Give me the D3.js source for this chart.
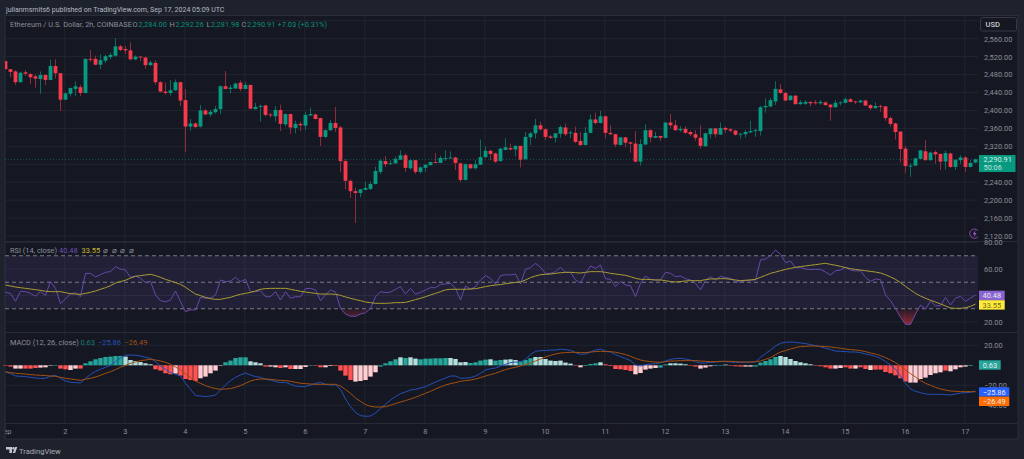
<!DOCTYPE html>
<html>
<head>
<meta charset="utf-8">
<script src="https://cdn.jsdelivr.net/npm/d3@7/dist/d3.min.js"></script>
<style>
html,body{margin:0;padding:0;background:#1e222d;overflow:hidden}
svg{display:block}
text{font-family:Roboto,"Noto Sans",sans-serif}
</style>
</head>
<body>
<svg id="chart" width="1024" height="459"></svg>
<script>
const opens=[2510,2492,2487,2463,2485,2481,2476,2470,2479,2468,
2499,2483,2424,2437,2448,2452,2439,2515,2515,2502,
2511,2519,2522,2543,2537,2534,2514,2520,2518,2501,
2506,2463,2442,2439,2445,2463,2423,2364,2371,2364,
2400,2391,2396,2403,2454,2448,2449,2462,2448,2457,
2403,2408,2411,2391,2387,2401,2369,2392,2361,2370,
2366,2389,2391,2383,2341,2356,2372,2362,2287,2243,
2220,2216,2223,2225,2236,2263,2287,2280,2282,2290,
2300,2271,2289,2263,2272,2278,2285,2283,2293,2294,
2295,2282,2245,2280,2271,2279,2296,2310,2304,2287,
2312,2316,2313,2321,2291,2340,2349,2367,2358,2342,
2339,2348,2362,2350,2350,2332,2323,2350,2380,2372,
2387,2350,2347,2323,2340,2329,2326,2286,2324,2356,
2339,2343,2339,2373,2367,2356,2359,2352,2347,2339,
2320,2347,2360,2346,2361,2358,2355,2346,2347,2351,
2354,2354,2407,2409,2420,2447,2439,2423,2433,2414,
2415,2419,2418,2416,2418,2413,2407,2417,2417,2425,
2420,2418,2422,2412,2405,2410,2409,2383,2371,2353,
2315,2276,2277,2292,2309,2289,2307,2303,2286,2304,
2274,2289,2295,2274,2284];
const highs=[2510,2492,2490,2486,2490,2484,2480,2487,2481,2513,
2514,2484,2440,2451,2465,2457,2516,2535,2522,2525,
2524,2529,2561,2546,2544,2552,2523,2522,2520,2511,
2512,2465,2462,2468,2469,2464,2448,2381,2373,2412,
2403,2401,2410,2456,2488,2457,2462,2467,2463,2457,
2417,2413,2413,2395,2410,2413,2393,2393,2377,2375,
2397,2406,2393,2384,2358,2379,2408,2366,2291,2246,
2228,2225,2241,2241,2274,2292,2298,2289,2297,2311,
2304,2291,2290,2275,2280,2286,2305,2299,2311,2309,
2297,2284,2282,2281,2289,2335,2320,2312,2306,2316,
2338,2326,2322,2321,2352,2352,2381,2375,2360,2345,
2350,2367,2371,2355,2364,2352,2363,2391,2395,2399,
2389,2367,2348,2341,2341,2330,2354,2336,2369,2358,
2352,2344,2374,2392,2379,2365,2365,2355,2356,2367,
2350,2361,2361,2373,2364,2361,2357,2350,2357,2377,
2359,2410,2427,2428,2465,2459,2442,2434,2434,2423,
2423,2420,2423,2423,2420,2414,2423,2420,2429,2428,
2422,2424,2424,2414,2418,2413,2410,2387,2373,2353,
2321,2282,2295,2312,2334,2308,2311,2304,2310,2306,
2291,2300,2298,2289,2292.26];
const lows=[2492,2474,2457,2462,2477,2459,2451,2437,2457,2468,
2471,2399,2423,2431,2432,2432,2438,2508,2501,2492,
2506,2514,2520,2532,2526,2512,2512,2510,2493,2499,
2458,2440,2435,2433,2444,2410,2307,2355,2361,2362,
2390,2386,2393,2392,2447,2438,2448,2443,2447,2403,
2402,2375,2387,2384,2375,2354,2364,2347,2349,2354,
2356,2387,2380,2321,2338,2355,2352,2262,2224,2205,
2149,2206,2222,2222,2235,2258,2274,2279,2281,2289,
2263,2268,2258,2259,2263,2277,2283,2283,2287,2293,
2267,2240,2244,2269,2268,2278,2294,2289,2283,2286,
2311,2311,2298,2273,2291,2323,2337,2355,2334,2337,
2328,2339,2343,2338,2327,2320,2322,2349,2369,2371,
2338,2345,2318,2322,2318,2306,2284,2277,2323,2329,
2338,2332,2338,2360,2354,2352,2348,2343,2332,2315,
2320,2338,2340,2346,2350,2351,2344,2337,2340,2350,
2341,2344,2395,2407,2412,2437,2422,2422,2413,2413,
2412,2409,2413,2413,2410,2377,2406,2411,2416,2418,
2414,2417,2410,2401,2404,2397,2377,2364,2335,2284,
2260,2252,2276,2291,2289,2288,2281,2267,2268,2272,
2267,2281,2263,2273,2282];
const closes=[2492,2486,2463,2484,2482,2474,2471,2479,2468,2499,
2483,2424,2438,2450,2454,2439,2515,2513,2502,2512,
2521,2524,2543,2535,2534,2514,2520,2518,2501,2507,
2463,2442,2439,2445,2463,2422,2364,2371,2363,2400,
2391,2397,2403,2454,2448,2451,2460,2448,2457,2404,
2408,2410,2390,2389,2401,2370,2392,2362,2370,2367,
2390,2392,2381,2341,2356,2372,2361,2287,2243,2220,
2216,2224,2227,2236,2265,2288,2280,2282,2292,2300,
2272,2289,2263,2273,2279,2285,2283,2294,2294,2295,
2283,2245,2280,2271,2280,2296,2310,2303,2286,2315,
2318,2313,2321,2290,2341,2349,2367,2358,2341,2339,
2349,2363,2347,2351,2330,2323,2350,2380,2372,2387,
2350,2347,2324,2340,2328,2326,2286,2325,2356,2340,
2343,2339,2373,2367,2356,2359,2350,2347,2339,2321,
2349,2360,2347,2361,2357,2355,2346,2348,2352,2354,
2356,2407,2410,2423,2448,2439,2422,2433,2414,2418,
2419,2416,2417,2419,2412,2407,2417,2418,2425,2419,
2418,2422,2411,2405,2410,2408,2383,2370,2352,2314,
2276,2277,2293,2311,2289,2306,2302,2286,2305,2274,
2290,2295,2274,2283,2290.91];
const rsi=[42.4,41.6,35.6,43.2,42.9,41.6,39.6,42.9,40.1,50.5,
45.4,33.8,37.6,41.1,42.1,39.1,56.7,56.7,54,55.7,
57.5,58,61.8,60,59.2,53.7,54.7,53,49.7,50.7,
40.4,36.1,35.3,36.6,43.4,35.3,27.8,29.1,29.1,38.6,
37.9,38.1,40.4,51.7,50.5,50.9,53.7,50.5,52.2,42.9,
42.9,43.6,39.1,39.1,42.9,36.6,42.9,37.9,39.1,39.1,
45.2,45.4,44.2,36.1,40.4,44.2,42.6,30.3,26,24.3,
24.3,26,27,30.3,39.1,42.9,42.1,42.6,44.7,46.7,
41.1,45.4,40.9,42.4,44.2,45.9,45.9,48.4,48.7,49.2,
45.4,36.6,47.2,44.7,46.7,51.7,55,53,48.4,55,
55.7,55.5,56.2,48.7,59.7,61,64.3,61.3,56.7,56.7,
58,61.3,57.5,57.5,51.7,49.4,56.7,62.3,60.5,63,
52.7,52.2,46.7,50.5,47.9,47.4,39.1,49.2,54.7,52.2,
51.7,51.7,57.5,56.7,54.2,54.7,52.7,51.7,49.2,44.2,
51.2,54.2,51.7,54.5,53.5,53,50.5,50.2,51.2,51.7,
51.7,66.8,67.5,70.1,74.3,71.1,64.8,66,61,61,
60,59.7,59.7,59.7,57.7,55.5,58.7,59.2,61.3,59.2,
58.5,58.7,53.7,50.7,52.5,52,40.4,36.1,30.3,23.5,
18.2,18.2,26,32.8,29.8,35.8,32.3,32.3,38.6,32.8,
37.9,39.4,35.6,38.1,40.48];
const rsiMa=[47.9,47.2,46.4,45.9,45.4,44.9,44.4,43.9,43.2,42.9,
42.9,42.9,42.1,41.4,41.1,40.9,41.6,42.4,43.4,44.7,
45.9,47.4,49.4,50.5,51.5,53.2,54.5,55,55.5,56,
55,53.7,52.2,51,49.7,48.4,46.2,43.6,41.1,39.9,
38.6,37.6,37.1,37.1,37.9,38.6,39.9,40.9,41.6,42.4,
43.4,44.7,45.2,45.4,45.4,45.4,45.4,44.7,43.9,43.2,
42.6,42.1,41.6,41.1,41.1,41.1,40.9,40.1,38.9,37.9,
36.9,36.1,35.1,34.6,34.1,34.1,34.1,34.3,34.6,34.6,
34.8,35.8,36.9,37.9,39.1,40.4,41.6,42.9,44.2,44.7,
44.7,44.7,44.7,44.9,45.2,45.9,46.7,47.4,47.9,48.2,
48.9,49.4,49.9,50.2,51.7,53.5,54.7,55.7,56,56.2,
56.7,57.2,57.5,57.5,57.2,57,57.5,58,58,58,
57.5,56.7,56.2,55.7,55.2,54.2,53,52.2,52.2,52,
51.7,51.7,51.2,50.5,50.2,50.5,51,51.2,51.2,51.2,
52,52.5,52.5,52.7,52.7,52.2,51.7,51.2,51.5,51.7,
52.2,53.7,55.2,56.7,57.7,58.7,59.7,60.5,61.3,61.8,
62.3,62.8,63.3,63.8,64.3,63.5,62.8,62,61,60.3,
59.7,59.2,58.7,58.2,57.7,57,55.7,54,52.2,49.7,
46.9,44.2,41.6,39.6,37.9,36.4,35.1,33.6,32.1,30.6,
30.3,30.3,30.8,31.8,33.55];
const macd=[-6.3,-8.3,-10.7,-11,-11.3,-12,-12.7,-13,-13,-11,
-10,-13,-15.7,-17,-17.3,-17.7,-13,-9.3,-6,-4,
-2,0,3.7,7.3,10,10.3,10,9.3,8,7,
3.7,-0.7,-4,-7.3,-9,-10.7,-18,-24,-30.3,-30.7,
-31.3,-30.7,-29.7,-24.7,-19.7,-15.3,-12,-9.7,-7.7,-9.7,
-11.3,-12,-14,-14.7,-16.3,-17.3,-17,-19,-20.7,-21.3,
-21.3,-19.7,-18,-17.3,-19,-19.7,-19.5,-24,-33.7,-41.3,
-47.3,-50.3,-51,-50.7,-47.7,-43.3,-39,-34.7,-31.3,-28.3,
-26.7,-24.7,-24,-22.7,-21.3,-19,-16.7,-14.7,-12.7,-10.7,
-10.7,-13,-12.7,-12.3,-10.7,-8,-4.7,-3.3,-2.7,-0.7,
1,2.7,3.3,3.3,6,10.7,14,14.7,14.7,15.3,
15.3,16,15.7,15,12.7,11,11.3,13.3,15.3,16.3,
14.3,13.3,10.7,8.7,6.7,4.7,0.3,-0.7,0.7,1.3,
1.7,2.5,4.3,6,6.7,7,6.3,5.3,3.7,2.3,
2.3,3,3.3,3.7,3.7,3.3,3,3,3,3.3,
3.3,8,11.7,15.3,19.3,22,23,23.3,23,22.3,
21.7,20.7,19.7,18.7,17,15.7,14.3,14,13.7,13.3,
13.3,12.7,11.3,10.3,9,7,3.7,0.3,-4,-10.7,
-18,-23.7,-26,-27.3,-28.7,-29,-29,-29,-29.3,-29.7,
-28.7,-27.7,-27.3,-27,-25.86];
const signal=[-6.7,-7.3,-8,-8.3,-8.7,-9.3,-9.7,-10,-10.3,-10.7,
-11,-12,-13,-13.7,-14.3,-15,-14,-13,-11.7,-10,
-8,-6.3,-4.3,-2,0,2,3.3,4.7,5.3,6,
5.3,4.3,3,1,-1.7,-4.7,-8.3,-12,-15.7,-18,
-20.3,-22,-23.3,-24,-23.7,-23.3,-22,-20.3,-18,-15.7,
-14.3,-13.7,-13.7,-14,-14.7,-15,-15.3,-16,-17,-18,
-18.3,-18.7,-19,-19,-19,-19,-19,-20.7,-24.3,-28,
-32.7,-36,-39.3,-41,-41.7,-41.7,-41.3,-40,-38.3,-36.7,
-35.3,-33.7,-32,-30,-28,-26,-23.7,-21.7,-19.7,-18.3,
-17.3,-16,-15.3,-14.7,-13.7,-12.3,-10.7,-9.3,-8,-6,
-4.3,-3,-2,-0.7,0.7,2.3,4.3,6.3,8.3,10,
11.3,12.3,12.7,13,13,12.7,12.7,13.3,13.7,14,
13.7,13.7,13,12,10.7,9,7,5.3,4.3,3.7,
3.3,3,3.7,4.3,4.3,4.7,4.7,4.7,4.7,4.3,
4,3.7,3.7,4,4,4,3.7,3.3,3.3,3.3,
3.7,4.3,6,7.7,10.7,13.3,14.7,16.3,17.7,18.7,
19,19.3,19.3,19,18.7,18.3,17.7,17,16.3,15.7,
15.3,14.7,13.7,12.3,11.3,9.7,7.7,5.3,2.7,-0.7,
-4.7,-8.3,-11.7,-15.3,-18,-20,-22,-23.7,-24.7,-25.7,
-26,-26.3,-26.3,-26.3,-26.49];
const hist=[-0.3,-1.3,-3.3,-3.3,-3.3,-3.3,-2.7,-2.3,-2,-0.3,
0.3,-3.3,-4,-4.7,-3.3,-3.3,2,4,6,7.3,
8.3,8.7,9.3,9.3,8.7,5.3,4.3,3.3,2,1,
-4,-5.3,-8,-9,-8.3,-10.3,-13.7,-14.7,-15.7,-13,
-11.3,-8,-5.3,-0.3,3,4.7,7.3,8,8,4,
3,2,-1.3,-1.3,-2,-2.7,-2,-3.7,-3.7,-3.7,
-1.7,-0.3,0.2,-2,-2,-0.7,-0.7,-5.3,-10.3,-14.7,
-16.3,-15.7,-14.7,-11.3,-7,-1.3,2,4,6,8,
7.3,8,6.7,6,6.7,6.7,7,7,7.3,7.3,
6.3,3,3.3,2.3,3,4.7,5.7,6,4.7,5.3,
5.7,6,5.3,4,5.3,7,8.3,8.3,6.3,4.7,
4.3,4.7,2.7,1.7,0.3,-2,-0.7,1.3,2,3,
1,-0.7,-3.7,-4,-4.7,-5.7,-9,-7.7,-4.3,-3.3,
-2.7,-2.3,1,2,2,1.7,1,0.2,-1.3,-3.3,
-2.3,-1,-0.7,0.3,0.7,0.3,-1,-1.3,-1.3,-1.3,
-1.3,2.7,4.3,6,8.3,9.3,8.3,6.3,4.3,3,
2,1,0.2,-1,-2,-3.3,-3.3,-2.7,-2,-3.3,
-3.3,-2,-3.7,-4.7,-4.3,-4.3,-6.7,-8,-10,-13,
-16.3,-17.3,-17.3,-13.7,-12.3,-9.7,-8,-7,-5.3,-6,
-4,-2,-1.3,-0.7,0.63];
const histTrend="DDddDDDdddUDDddDUUUUUUUUuuuuuuDDDDdDDDDdddddUUUUUuuuDddDdDdddUDDddDDDDdddddUUUUuUuuUUUUUUuuuuUUUUuUUuuuUUUuuuuuuuuDdUUUuDDDDDDdddddUUuuuuDDdddUUuDDDddUUUUUuuuuuuuDDDDddDDdDDdDDDDDDDdddddddDddddU".split("");
const dayLabels=["Sep","2","3","4","5","6","7","8","9","10","11","12","13","14","15","16","17"];
const priceTicks=[2120,2160,2200,2240,2280,2320,2360,2400,2440,2480,2520,2560,2600];
const rsiTicks=[80,60,40,20];
const rsiBands=[70,50,30];
const macdTicks=[20,0,-20,-40];
const barsPerDay=12;

const col={frame:"#1e222d",pane:"#151823",grid:"#212530",text:"#8b8e98",up:"#089981",down:"#f7394c",
upWick:"#0b6b5d",downWick:"#8f2c3c",rsi:"#654aa8",ma:"#ab9d33",macd:"#2450b8",sig:"#a5500f",
hU:"#26a69a",hu:"#b2dfdb",hd:"#ffcdd2",hD:"#ff5252"};

const svg=d3.select("#chart");
const L=5,R=978,FR=1018,T=15.5,B=439;
svg.append("rect").attr("width",1024).attr("height",459).attr("fill",col.frame);
svg.append("rect").attr("x",L).attr("y",T).attr("width",FR-L).attr("height",B-T).attr("fill",col.pane).attr("stroke","#2a2e39").attr("stroke-width",1);

const x=d3.scaleLinear().domain([0,194]).range([5.5,975.5]);
const yP=d3.scaleLinear().domain([2120,2560]).range([236,38.7]);
const yR=d3.scaleLinear().domain([20,80]).range([322,242.5]);
const yM=d3.scaleLinear().domain([-40,20]).range([405.3,345.3]);
const dayX=i=>x(i*barsPerDay)-0.7;

svg.append("defs").html(`
<clipPath id="plot"><rect x="${L}" y="${T}" width="${R-L}" height="${B-T}"/></clipPath>
<clipPath id="below30"><rect x="${L}" y="${yR(30)}" width="${R-L}" height="30"/></clipPath>
<linearGradient id="osGrad" x1="0" x2="0" y1="0" y2="1"><stop offset="0" stop-color="#f23645" stop-opacity="0.05"/><stop offset="1" stop-color="#f23645" stop-opacity="0.55"/></linearGradient>`);

const grid=svg.append("g");
const gridY=(s,ticks)=>grid.selectAll(null).data(ticks).join("line")
  .attr("x1",L).attr("x2",R).attr("y1",d=>s(d)).attr("y2",d=>s(d)).attr("stroke",col.grid);
gridY(yP,priceTicks);gridY(yR,rsiTicks);gridY(yM,macdTicks);
grid.selectAll(null).data(d3.range(1,dayLabels.length)).join("line")
  .attr("x1",dayX).attr("x2",dayX).attr("y1",T).attr("y2",423.5).attr("stroke",col.grid);
svg.selectAll(null).data([241.5,332.5,423.5]).join("line")
  .attr("x1",L).attr("x2",FR).attr("y1",d=>d).attr("y2",d=>d).attr("stroke","#262a35");

const candles=svg.append("g").attr("clip-path","url(#plot)");
const idx=d3.range(opens.length);
candles.selectAll(null).data(idx).join("line")
  .attr("x1",x).attr("x2",x).attr("y1",i=>yP(highs[i])).attr("y2",i=>yP(lows[i]))
  .attr("stroke",i=>closes[i]>=opens[i]?col.upWick:col.downWick).attr("stroke-width",1);
candles.selectAll(null).data(idx).join("rect")
  .attr("x",i=>x(i)-1.9).attr("width",3.8)
  .attr("y",i=>yP(Math.max(opens[i],closes[i])))
  .attr("height",i=>Math.max(0.9,Math.abs(yP(opens[i])-yP(closes[i]))))
  .attr("fill",i=>closes[i]>=opens[i]?col.up:col.down);
svg.append("line").attr("x1",L).attr("x2",R).attr("y1",yP(closes[194])).attr("y2",yP(closes[194]))
  .attr("stroke","#0d8b77").attr("stroke-opacity",0.55).attr("stroke-dasharray","1 2");

svg.append("rect").attr("x",L).attr("width",R-L).attr("y",yR(70)).attr("height",yR(30)-yR(70)).attr("fill","#7e57c2").attr("fill-opacity",0.12);
svg.selectAll(null).data(rsiBands).join("line").attr("x1",L).attr("x2",R).attr("y1",d=>yR(d)).attr("y2",d=>yR(d))
  .attr("stroke","#787b86").attr("stroke-dasharray","4 3");
const lineOf=(arr,s)=>d3.line().x((d,i)=>x(i)).y(d=>s(d))(arr);
svg.append("g").attr("clip-path","url(#below30)").append("path")
  .attr("d",d3.area().x((d,i)=>x(i)).y0(yR(30)).y1(d=>yR(Math.min(d,30)))(rsi))
  .attr("fill","url(#osGrad)");
svg.append("path").attr("d",lineOf(rsi,yR)).attr("fill","none").attr("stroke",col.rsi).attr("stroke-width",1);
svg.append("path").attr("d",lineOf(rsiMa,yR)).attr("fill","none").attr("stroke",col.ma).attr("stroke-width",1);

const histColor={U:col.hU,u:col.hu,d:col.hd,D:col.hD};
svg.append("g").selectAll("rect").data(hist).join("rect")
  .attr("x",(d,i)=>x(i)-2.2).attr("width",4.4)
  .attr("y",d=>Math.min(yM(0),yM(d))).attr("height",d=>Math.max(0.5,Math.abs(yM(d)-yM(0))))
  .attr("fill",(d,i)=>histColor[histTrend[i]]);
svg.append("path").attr("d",lineOf(macd,yM)).attr("fill","none").attr("stroke",col.macd).attr("stroke-width",1);
svg.append("path").attr("d",lineOf(signal,yM)).attr("fill","none").attr("stroke",col.sig).attr("stroke-width",1);

const fmtP=d3.format(",.2f"),fmtN=d3.format(".2f");
const styleAxis=g=>{g.select(".domain").remove();g.selectAll(".tick line").remove();
  g.selectAll("text").attr("fill",col.text).attr("font-size",7.4).attr("font-family","Roboto");};
svg.append("g").attr("transform","translate(984,0)").call(d3.axisRight(yP).tickValues(priceTicks.filter(d=>d!==2600&&d!==2280)).tickFormat(fmtP).tickSize(0).tickPadding(0)).call(styleAxis);
svg.append("g").attr("transform","translate(984,0)").call(d3.axisRight(yR).tickValues(rsiTicks.filter(d=>d!==40)).tickFormat(fmtN).tickSize(0).tickPadding(0)).call(styleAxis);
svg.append("g").attr("transform","translate(984,0)").call(d3.axisRight(yM).tickValues(macdTicks.filter(d=>d!==0)).tickFormat(d=>fmtN(d).replace("-","\u2212")).tickSize(0).tickPadding(0)).call(styleAxis);
const tScale=d3.scaleLinear().domain([0,dayLabels.length-1]).range([dayX(0),dayX(dayLabels.length-1)]);
svg.append("g").attr("transform","translate(0,428.5)")
  .call(d3.axisBottom(tScale).tickValues(d3.range(dayLabels.length)).tickFormat(i=>dayLabels[i]).tickSize(0).tickPadding(0)).call(styleAxis);
svg.append("rect").attr("x",0).attr("y",424).attr("width",L).attr("height",15).attr("fill",col.frame);
svg.append("line").attr("x1",L).attr("x2",L).attr("y1",424).attr("y2",439).attr("stroke","#2a2e39");

function tag(x0,y0,w,h,fill,text,tc){
  svg.append("rect").attr("x",x0).attr("y",y0).attr("width",w).attr("height",h).attr("fill",fill);
  svg.append("text").attr("x",x0+w/2).attr("y",y0+h/2+2.6).attr("text-anchor","middle").attr("font-size",7.4).attr("fill",tc||"#e8eaf0").text(text);
}
svg.append("circle").attr("cx",974.5).attr("cy",233.7).attr("r",4.7).attr("fill","none").attr("stroke","#8e44ad").attr("stroke-width",1);
svg.append("path").attr("d","M975.5 230 L972.8 234.3 L974.6 234.3 L973.6 237.6 L976.6 233 L974.8 233 Z").attr("fill","#9b59d0");
svg.append("rect").attr("x",978).attr("y",226).attr("width",5).attr("height",14).attr("fill",col.pane);

svg.append("rect").attr("x",979).attr("y",155).attr("width",36.5).attr("height",17).attr("fill","#089981");
svg.append("text").attr("x",983.5).attr("y",162).attr("font-size",7.4).attr("fill","#d5efe9").text(fmtP(closes[194]));
svg.append("text").attr("x",983.5).attr("y",169.8).attr("font-size",7.4).attr("fill","#bfe6de").text("50:06");
tag(979,290.7,25.7,9.5,"#8a63d2",fmtN(rsi[194]));
tag(979,300.2,25.7,9.4,"#ffeb3b",fmtN(rsiMa[194]),"#6f6a20");
tag(979,360.3,21.7,9.4,"#26a69a",fmtN(hist[194]));
tag(979,387.3,30.3,9.3,"#2962ff",fmtN(macd[194]).replace("-","\u2212"));
tag(979,396.6,30.3,9.4,"#ff6d00",fmtN(signal[194]).replace("-","\u2212"));

svg.append("rect").attr("x",980.5).attr("y",17.5).attr("width",36).attr("height",13.5).attr("rx",2).attr("fill","#151823").attr("stroke","#363a45");
svg.append("text").attr("x",985.5).attr("y",27).attr("font-size",7.6).attr("fill","#c5c8d0").attr("font-weight",500).text("USD");

const label=(px,py,s,fill,size)=>svg.append("text").attr("x",px).attr("y",py).attr("font-size",size||7.4).attr("fill",fill).text(s);
label(6,11.5,"julianmsmits6 published on TradingView.com, Sep 17, 2024 05:09 UTC","#b6b9c2",7);
label(10,26.5,"Ethereum / U.S. Dollar, 2h, COINBASE","#8b8e98");
const gr="#0c8e7a";
label(132.5,26.5,"O","#8b8e98");label(138.5,26.5,"2,284.00",gr);
label(169.5,26.5,"H","#8b8e98");label(175.5,26.5,"2,292.26",gr);
label(206.5,26.5,"L","#8b8e98");label(211,26.5,"2,281.98",gr);
label(241.5,26.5,"C","#8b8e98");label(247,26.5,"2,290.91",gr);
label(277.5,26.5,"+7.03 (+0.31%)",gr);
label(10,253,"RSI (14, close)","#8b8e98");
label(59,253,"40.48","#6f4fb8");
label(81.5,253,"33.55","#c9b92c");
[105.7,114.2,122.7,131.2].forEach(px=>label(px-2.5,253,"\u2300","#8b8e98",7.5));
label(10,344.5,"MACD (12, 26, close)","#8b8e98");
label(80.5,344.5,"0.63","#0f7f72");
label(98,344.5,"\u221225.86","#2450b8");
label(124.5,344.5,"\u221226.49","#a5500f");

svg.append("path").attr("d","M6 447 h6 v6 h-2.6 v-3.4 H6 Z M12.8 453 L15 447 h2.3 l-2.2 6 Z").attr("fill","#c3c6ce");
svg.append("circle").attr("cx",13.4).attr("cy",448.3).attr("r",1.2).attr("fill","#c3c6ce");
label(19,453.5,"TradingView","#a9acb5",7.6);
</script>
</body>
</html>
